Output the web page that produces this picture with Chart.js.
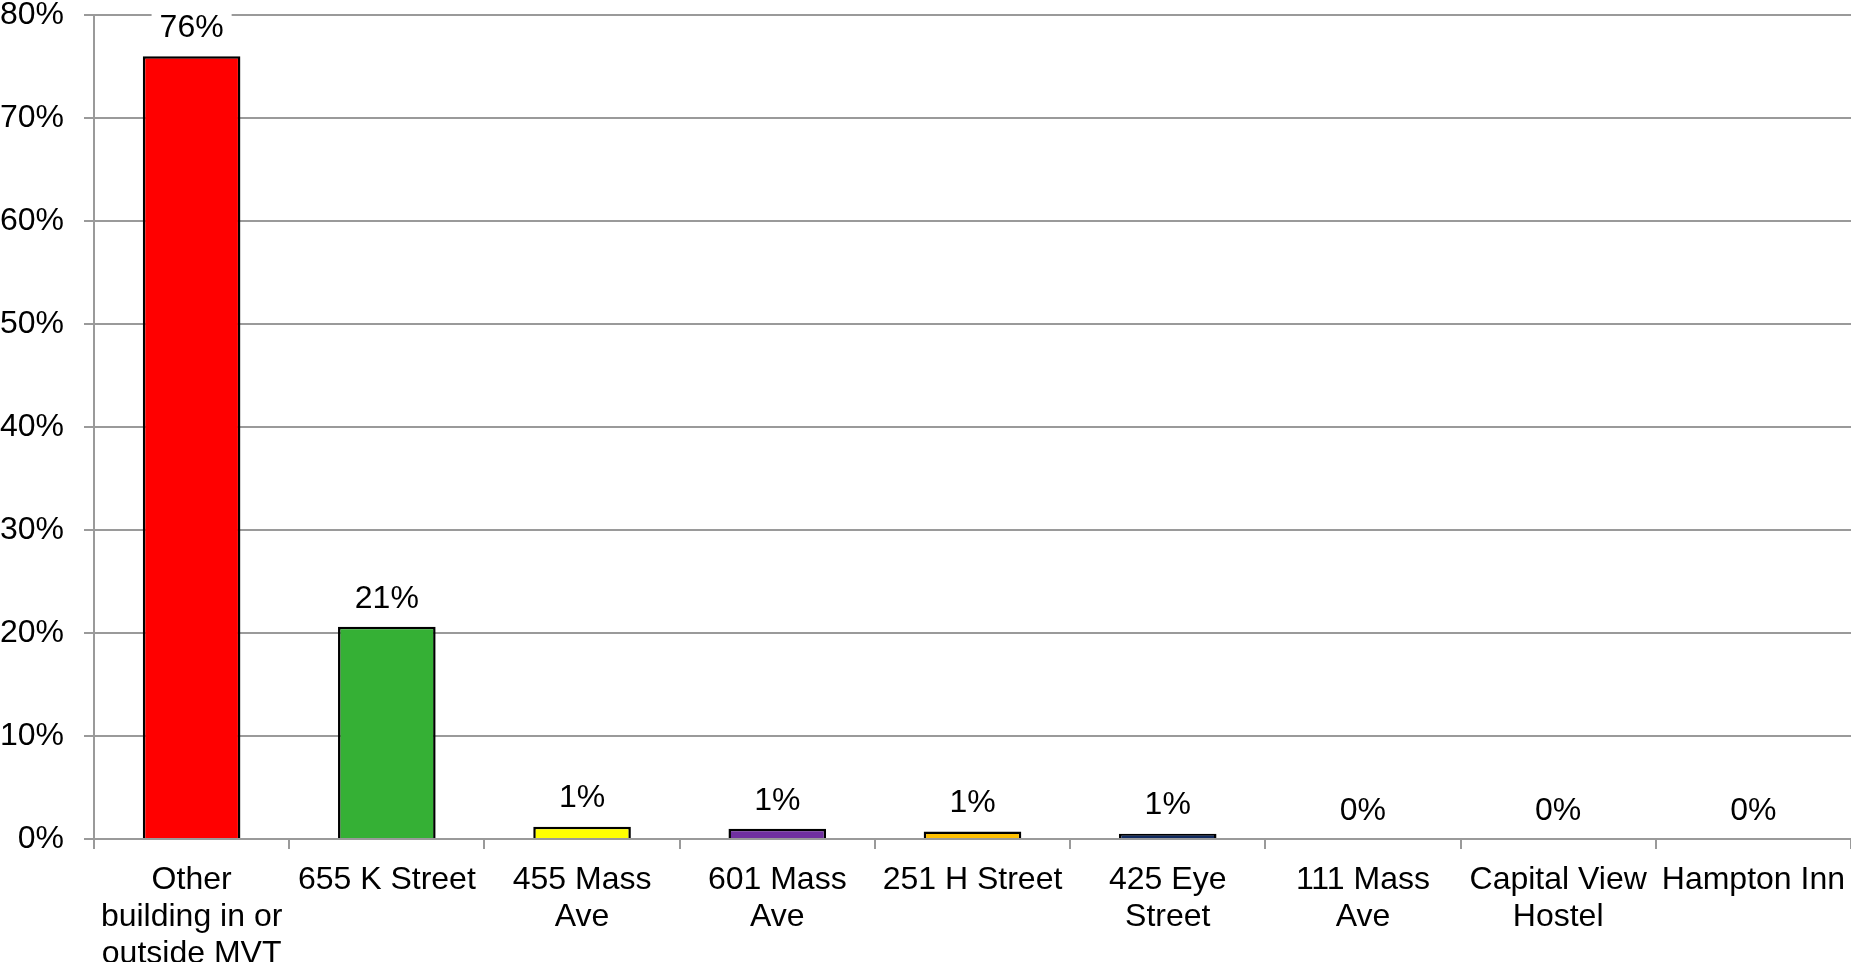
<!DOCTYPE html>
<html>
<head>
<meta charset="utf-8">
<script src="https://cdn.jsdelivr.net/npm/chart.js@4/dist/chart.umd.min.js"></script>
<style>
html,body{margin:0;padding:0;background:#fff;}
#wrap{width:1851px;height:962px;position:relative;}
</style>
</head>
<body>
<div id="wrap"><canvas id="c" width="1851" height="962"></canvas></div>
<script>
const categories = [
  ["Other", "building in or", "outside MVT"],
  "655 K Street",
  ["455 Mass", "Ave"],
  ["601 Mass", "Ave"],
  "251 H Street",
  ["425 Eye", "Street"],
  ["111 Mass", "Ave"],
  ["Capital View", "Hostel"],
  "Hampton Inn"
];
const values = [76.0, 20.6, 1.2, 1.0, 0.72, 0.52, 0, 0, 0];
const barColors = ["#FF0000", "#35B035", "#FFFF00", "#7030A0", "#FFC000", "#0F2A60", "#4F81BD", "#C0504D", "#9BBB59"];
const yTicks = [0, 10, 20, 30, 40, 50, 60, 70, 80];

const FONT = '"Liberation Sans", Arial, sans-serif';
const GRID = '#9a9a9a';

const valueLabels = {
  id: 'valueLabels',
  afterDatasetsDraw(chart) {
    const ctx = chart.ctx;
    const meta = chart.getDatasetMeta(0);
    ctx.save();
    ctx.font = '32px ' + FONT;
    ctx.textAlign = 'center';
    ctx.textBaseline = 'middle';
    meta.data.forEach((bar, i) => {
      const txt = Math.round(values[i]) + '%';
      const w = ctx.measureText(txt).width;
      const cy = bar.y - 28;
      ctx.fillStyle = '#fff';
      ctx.fillRect(bar.x - w / 2 - 8, cy - 17, w + 16, 34);
      ctx.fillStyle = '#000';
      ctx.fillText(txt, bar.x, cy);
    });
    ctx.restore();
  }
};

new Chart(document.getElementById('c'), {
  type: 'bar',
  data: {
    labels: categories,
    datasets: [{
      data: values,
      backgroundColor: barColors,
      borderColor: '#000',
      borderWidth: 2.5,
      barPercentage: 0.5,
      categoryPercentage: 1.0
    }]
  },
  options: {
    responsive: false,
    animation: false,
    layout: { padding: { top: 15, right: 0, left: 0, bottom: 0 } },
    plugins: { legend: { display: false }, tooltip: { enabled: false } },
    scales: {
      x: {
        grid: { display: true, drawOnChartArea: false, drawTicks: true, tickLength: 10, color: GRID, lineWidth: 2 },
        border: { display: true, color: GRID, width: 2 },
        ticks: { color: '#000', padding: 13, maxRotation: 0, autoSkip: false, font: { family: FONT, size: 32, lineHeight: 1.15 } },
        afterFit(scale) { scale.height = 123; scale.paddingLeft = 0; scale.paddingRight = 0; }
      },
      y: {
        min: 0, max: 80,
        afterBuildTicks(scale) { scale.ticks = yTicks.map(v => ({ value: v })); },
        grid: { color: GRID, lineWidth: 2, tickLength: 10 },
        border: { display: true, color: GRID, width: 2 },
        ticks: { color: '#000', font: { family: FONT, size: 32 }, padding: 20, callback: v => v + '%' },
        afterFit(scale) { scale.width = 94; scale.paddingTop = 0; scale.paddingBottom = 0; }
      }
    }
  },
  plugins: [valueLabels]
});
</script>
</body>
</html>
